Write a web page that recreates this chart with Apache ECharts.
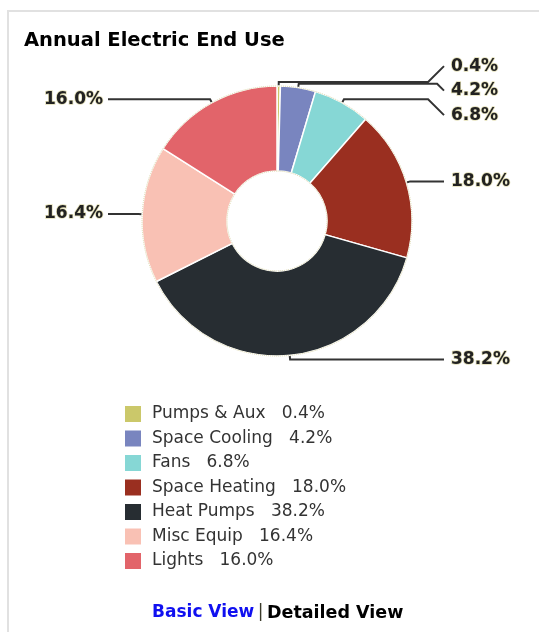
<!DOCTYPE html>
<html>
<head>
<meta charset="utf-8">
<script src="https://cdn.jsdelivr.net/npm/echarts@6/dist/echarts.min.js"></script>
<style>
html,body{margin:0;padding:0;background:#fff;}
#chart{width:539px;height:632px;}
</style>
</head>
<body>
<div id="chart"></div>
<script>
// ---- data ----
const titleText = 'Annual Electric End Use';
const categories = ['Pumps & Aux', 'Space Cooling', 'Fans', 'Space Heating', 'Heat Pumps', 'Misc Equip', 'Lights'];
const shares = [0.4, 4.2, 6.8, 18.0, 38.2, 16.4, 16.0];
const footerLinks = ['Basic View', 'Detailed View'];

// ---- style / layout ----
const palette = ['#cbc86a', '#7985bf', '#86d7d5', '#9a2f20', '#272d32', '#f9c1b4', '#e2646a'];
const pieCenter = [277, 221];
const pieRadius = [50, 135];
const lineStub = 4;          // first radial segment of leader lines
const rightLineEnd = 444;    // x where right leader lines end
const leftLineEnd = 108;     // x where left leader lines end
const labelGap = 7;          // line end -> text
const labelPitch = 24.5;     // min vertical distance between labels

const fmt = v => v.toFixed(1) + '%';

// place outside labels: anchor at the leader bend; overlapping ones are pushed down,
// then each group is moved back up by half of its largest push
function computeLabelYs() {
  const total = shares.reduce((a, b) => a + b, 0);
  let acc = 0;
  const items = shares.map((v, i) => {
    const mid = (acc + v / 2) / total * Math.PI * 2;
    acc += v;
    return {i, right: Math.sin(mid) >= 0,
            anchor: pieCenter[1] - (pieRadius[1] + lineStub) * Math.cos(mid)};
  });
  const out = [];
  [true, false].forEach(side => {
    const list = items.filter(d => d.right === side).sort((a, b) => a.anchor - b.anchor);
    const groups = [];
    let prev = null;
    list.forEach(d => {
      if (prev !== null && d.anchor < prev + labelPitch) {
        d.pos = prev + labelPitch;
        groups[groups.length - 1].push(d);
      } else {
        d.pos = d.anchor;
        groups.push([d]);
      }
      prev = d.pos;
    });
    groups.forEach(g => {
      const maxShift = Math.max(...g.map(d => d.pos - d.anchor));
      g.forEach(d => { out[d.i] = d.pos - maxShift / 2; });
    });
  });
  return out;
}
const labelYs = computeLabelYs();

const chart = echarts.init(document.getElementById('chart'), null, {renderer: 'canvas'});
const seriesData = categories.map((c, i) => ({name: c, value: shares[i]}));

const option = {
  animation: false,
  color: palette,
  graphic: [
    {type: 'polyline', shape: {points: [[8, 632], [8, 11], [539, 11]]},
     style: {stroke: '#e1e1e1', lineWidth: 2, fill: null}, silent: true},
    {type: 'text', left: 24, top: 31,
     style: {text: titleText, font: 'bold 19.5px "DejaVu Sans"', fill: '#000'}},
    {type: 'text', left: 152, top: 604,
     style: {
       text: '{a|' + footerLinks[0] + '}{s| }{b||}{s| }{c|' + footerLinks[1] + '}',
       rich: {
         a: {fontFamily: 'DejaVu Sans', fontWeight: 'bold', fontSize: 17, fill: '#1010f0'},
         s: {fontFamily: 'DejaVu Sans', fontSize: 11, fill: '#000'},
         b: {fontFamily: 'DejaVu Sans', fontSize: 17, fill: '#3a3a2a'},
         c: {fontFamily: 'DejaVu Sans', fontWeight: 'bold', fontSize: 17.5, fill: '#000'}
       }
     }}
  ],
  legend: {
    orient: 'vertical',
    left: 123, top: 404,
    padding: 0,
    itemWidth: 18, itemHeight: 18, itemGap: 4.5,
    icon: 'rect',
    selectedMode: false,
    data: categories,
    formatter: name => name + '   ' + fmt(shares[categories.indexOf(name)]),
    textStyle: {fontFamily: 'DejaVu Sans', fontSize: 17, color: '#333', padding: [0, 0, 0, 5]}
  },
  series: [{
    type: 'pie',
    center: pieCenter,
    radius: pieRadius,
    startAngle: 90,
    clockwise: true,
    data: seriesData,
    itemStyle: {borderColor: '#fff', borderWidth: 1.5},
    emphasis: {disabled: true},
    avoidLabelOverlap: false,
    label: {
      show: true,
      position: 'outside',
      formatter: p => fmt(p.value),
      fontFamily: 'DejaVu Sans', fontWeight: 'bold', fontSize: 17, color: '#222',
      textBorderColor: 'rgba(214,208,150,0.7)', textBorderWidth: 1.5
    },
    labelLine: {show: true, length: lineStub, length2: 20, lineStyle: {color: '#333', width: 2}},
    labelLayout: function (params) {
      const p0 = params.labelLinePoints[0];
      const dx = p0[0] - pieCenter[0], dy = p0[1] - pieCenter[1];
      const len = Math.sqrt(dx * dx + dy * dy) || 1;
      const p1 = [p0[0] + dx / len * lineStub, p0[1] + dy / len * lineStub];
      const right = dx >= 0;
      const ly = labelYs[params.dataIndex];
      const xEnd = right ? rightLineEnd : leftLineEnd;
      const diff = ly - p1[1];
      const bendX = right ? xEnd - Math.abs(diff) : xEnd + Math.abs(diff);
      return {
        x: right ? xEnd + labelGap : xEnd - labelGap + 2,
        y: ly,
        align: right ? 'left' : 'right',
        verticalAlign: 'middle',
        labelLinePoints: [p0, p1, [bendX, p1[1]], [xEnd, ly]]
      };
    }
  }, {
    // dotted rim around the ring
    type: 'pie',
    center: pieCenter,
    radius: pieRadius,
    silent: true,
    z: 3,
    label: {show: false},
    labelLine: {show: false},
    emphasis: {disabled: true},
    data: [{name: 'rim', value: 1}],
    itemStyle: {color: 'rgba(0,0,0,0)', borderColor: '#d9d4a6', borderWidth: 1, borderType: 'dotted'}
  }]
};
chart.setOption(option);
</script>
</body>
</html>
